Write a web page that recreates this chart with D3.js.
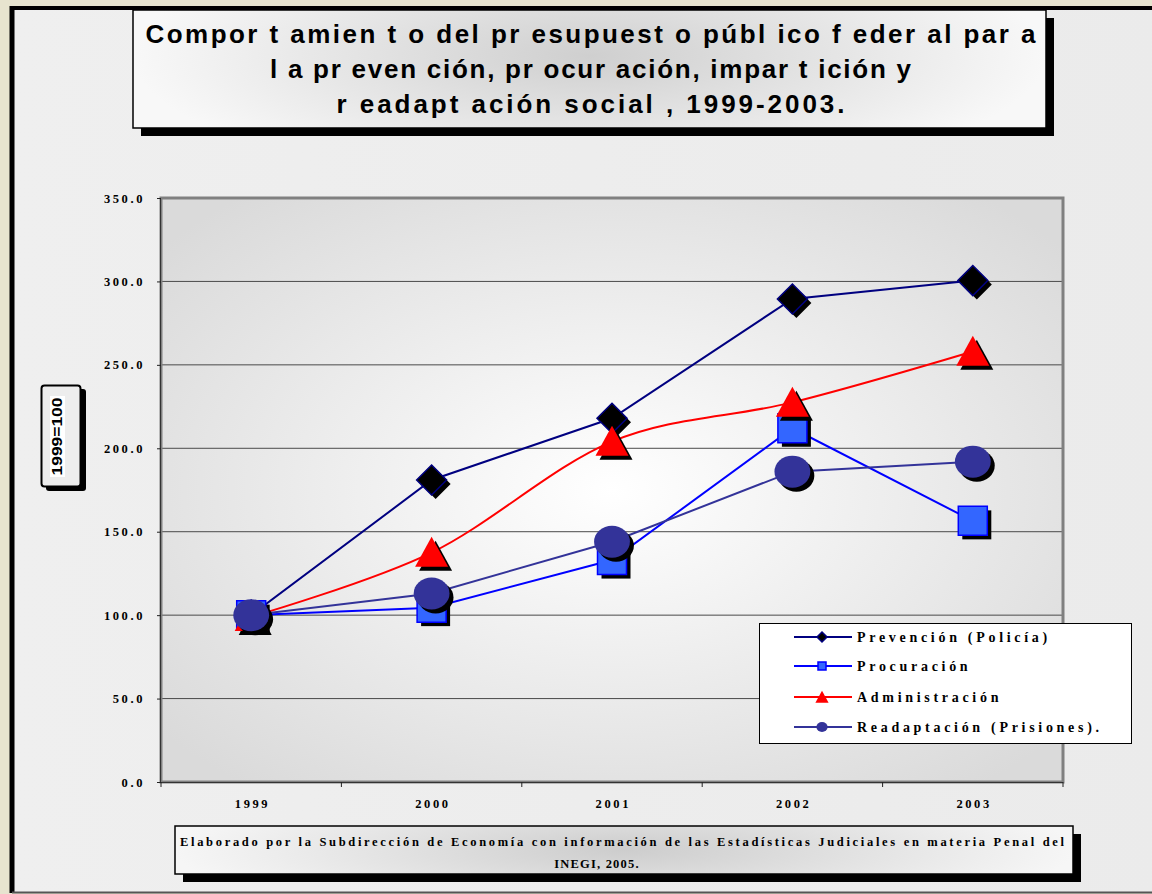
<!DOCTYPE html>
<html>
<head>
<meta charset="utf-8">
<script src="https://cdn.jsdelivr.net/npm/d3@7"></script>
<style>
  body { margin: 0; background: #e7e4cf; }
  svg { display: block; }
</style>
</head>
<body>
<div id="graph"></div>
<script>
const years = ['1999', '2000', '2001', '2002', '2003']
const prevencion = [100, 181, 218, 289.5, 300.5]
const procuracion = [100, 104.5, 133, 212, 156.5]
const administracion = [99, 137.5, 204, 227.5, 258]
const readaptacion = [100, 113, 144, 186, 192]
const yTicks = [0, 50, 100, 150, 200, 250, 300, 350]

const titleLines = [
  'Compor t amien t o del pr esupuest o públ ico f eder al par a',
  'l a pr even ción, pr ocur ación, impar t ición y',
  'r eadapt ación social , 1999-2003.'
]
const footLines = [
  'Elaborado por la Subdirección de Economía con información de las Estadísticas Judiciales en materia Penal del',
  'INEGI, 2005.'
]
const yLabelText = '1999=100'

const series = [
  {name: 'Prevención (Policía)', values: prevencion, color: '#000080', shape: 'diamond'},
  {name: 'Procuración', values: procuracion, color: '#0000ff', shape: 'square'},
  {name: 'Administración', values: administracion, color: '#ff0000', shape: 'triangle', smooth: true},
  {name: 'Readaptación (Prisiones).', values: readaptacion, color: '#333399', shape: 'circle'}
]

const W = 1152, H = 894
const plot = {left: 161, right: 1063, top: 198, bottom: 782}

const svg = d3.select('#graph').append('svg')
  .attr('width', W).attr('height', H)

const defs = svg.append('defs')

const rg = defs.append('radialGradient').attr('id', 'plotFill')
  .attr('cx', '0.5').attr('cy', '0.5').attr('r', '0.65')
rg.append('stop').attr('offset', '0%').attr('stop-color', '#ffffff')
rg.append('stop').attr('offset', '100%').attr('stop-color', '#dadada')

const tg = defs.append('radialGradient').attr('id', 'titleFill')
  .attr('cx', '0.5').attr('cy', '0.45').attr('r', '0.5')
  .attr('gradientTransform', 'translate(0.5,0.5) scale(1,2.2) translate(-0.5,-0.5)')
tg.append('stop').attr('offset', '0%').attr('stop-color', '#cfcfcf')
tg.append('stop').attr('offset', '100%').attr('stop-color', '#f8f8f8')

const fg = defs.append('radialGradient').attr('id', 'footFill')
  .attr('cx', '0.5').attr('cy', '0.5').attr('r', '0.5')
  .attr('gradientTransform', 'translate(0.5,0.5) scale(1,3) translate(-0.5,-0.5)')
fg.append('stop').attr('offset', '0%').attr('stop-color', '#cdcdcd')
fg.append('stop').attr('offset', '100%').attr('stop-color', '#f6f6f6')

const bg = defs.append('linearGradient').attr('id', 'bgFill')
  .attr('x1', 0).attr('x2', 1).attr('y1', 0).attr('y2', 0)
bg.append('stop').attr('offset', '0%').attr('stop-color', '#efefef')
bg.append('stop').attr('offset', '100%').attr('stop-color', '#ebebeb')

// outer frame
svg.append('rect')
  .attr('x', 12).attr('y', 8).attr('width', W).attr('height', 884)
  .attr('fill', 'url(#bgFill)')
svg.append('line').attr('x1', 12).attr('x2', 12).attr('y1', 6).attr('y2', 893)
  .attr('stroke', '#000').attr('stroke-width', 5)
svg.append('line').attr('x1', 10).attr('x2', W).attr('y1', 8).attr('y2', 8)
  .attr('stroke', '#000').attr('stroke-width', 4)
svg.append('line').attr('x1', 12).attr('x2', W).attr('y1', 892.5).attr('y2', 892.5)
  .attr('stroke', '#555').attr('stroke-width', 2)

// title box
const tb = {x: 133, y: 10, w: 913, h: 118}
svg.append('rect').attr('x', tb.x + 8).attr('y', tb.y + 8)
  .attr('width', tb.w).attr('height', tb.h).attr('fill', '#000')
svg.append('rect').attr('x', tb.x).attr('y', tb.y)
  .attr('width', tb.w).attr('height', tb.h)
  .attr('fill', 'url(#titleFill)').attr('stroke', '#000').attr('stroke-width', 1.5)
const titleLen = [890, 641, 508]
const titleBase = [43, 78, 113]
titleLines.forEach((t, i) => {
  svg.append('text')
    .attr('x', tb.x + tb.w / 2 + 1).attr('y', titleBase[i])
    .attr('text-anchor', 'middle')
    .attr('font-family', 'Liberation Sans, Arial, sans-serif')
    .attr('font-weight', 'bold').attr('font-size', 26)
    .attr('textLength', titleLen[i]).attr('lengthAdjust', 'spacing')
    .attr('fill', '#000')
    .text(t)
})

// scales
const x = d3.scaleBand().domain(years).range([plot.left, plot.right])
const y = d3.scaleLinear().domain([0, 350]).range([plot.bottom, plot.top])
const cx = d => x(d) + x.bandwidth() / 2

// plot area
svg.append('rect')
  .attr('x', plot.left).attr('y', plot.top)
  .attr('width', plot.right - plot.left).attr('height', plot.bottom - plot.top)
  .attr('fill', 'url(#plotFill)')

// gridlines
svg.append('g').selectAll('line')
  .data(yTicks.filter(d => d > 0 && d < 350))
  .join('line')
  .attr('x1', plot.left).attr('x2', plot.right)
  .attr('y1', d => y(d)).attr('y2', d => y(d))
  .attr('stroke', '#4a4a4a').attr('stroke-width', 1)

svg.append('rect')
  .attr('x', plot.left).attr('y', plot.top)
  .attr('width', plot.right - plot.left).attr('height', plot.bottom - plot.top)
  .attr('fill', 'none').attr('stroke', '#808080').attr('stroke-width', 3)
svg.append('line').attr('x1', plot.left - 0.5).attr('x2', plot.left - 0.5)
  .attr('y1', plot.top).attr('y2', plot.bottom)
  .attr('stroke', '#333').attr('stroke-width', 1)
svg.append('line').attr('x1', plot.left).attr('x2', plot.right)
  .attr('y1', plot.bottom + 0.5).attr('y2', plot.bottom + 0.5)
  .attr('stroke', '#333').attr('stroke-width', 1)

// y axis
const yAxis = svg.append('g')
  .attr('transform', `translate(${plot.left},0)`)
  .call(d3.axisLeft(y).tickValues(yTicks).tickSize(4).tickFormat(d3.format('.1f')))
yAxis.select('.domain').remove()
yAxis.selectAll('.tick line').attr('stroke', '#222')
yAxis.selectAll('.tick text')
  .attr('x', -16)
  .attr('font-family', 'Liberation Serif, Times New Roman, serif')
  .attr('font-weight', 'bold').attr('font-size', 12.5)
  .attr('letter-spacing', 2.6).attr('fill', '#000')

// x axis
const xAxis = svg.append('g')
  .attr('transform', `translate(0,${plot.bottom})`)
  .call(d3.axisBottom(x).tickSize(0))
xAxis.select('.domain').remove()
xAxis.selectAll('.tick text')
  .attr('y', 26).attr('dy', 0)
  .attr('font-family', 'Liberation Serif, Times New Roman, serif')
  .attr('font-weight', 'bold').attr('font-size', 12.5)
  .attr('letter-spacing', 2.6).attr('fill', '#000')
  .attr('dx', 1.3)
svg.append('g').selectAll('line')
  .data(years.concat(['end']))
  .join('line')
  .attr('x1', (d, i) => plot.left + i * x.bandwidth())
  .attr('x2', (d, i) => plot.left + i * x.bandwidth())
  .attr('y1', plot.bottom).attr('y2', plot.bottom + 5)
  .attr('stroke', '#222')

// markers
const shapePath = (shape, s) => {
  if (shape === 'diamond') return `M0,${-s}L${s},0L0,${s}L${-s},0Z`
  if (shape === 'square') return `M${-s},${-s}H${s}V${s}H${-s}Z`
  if (shape === 'triangle') return `M0,${-s * 1.05}L${s * 1.1},${s * 0.95}L${-s * 1.1},${s * 0.95}Z`
  return null
}
const drawMarker = (g, shape, px, py, size, color, shadow) => {
  const m = g.append('g').attr('transform', `translate(${px},${py})`)
  const add = (dx, fill, stroke, sw) => {
    let el
    if (shape === 'circle') {
      el = m.append('ellipse').attr('rx', size * 1.12).attr('ry', size)
    } else {
      el = m.append('path').attr('d', shapePath(shape, size))
    }
    el.attr('transform', `translate(${dx},${dx})`)
      .attr('fill', fill).attr('stroke', stroke).attr('stroke-width', sw)
  }
  if (shadow) add(4, '#000', 'none', 0)
  if (shape === 'diamond') add(0, '#000', color, 1.5)
  else if (shape === 'square') add(0, '#3366ff', color, 1.5)
  else add(0, color, 'none', 0)
}
const bigSize = {diamond: 15, square: 14.5, triangle: 15, circle: 16}
const smallSize = {diamond: 5, square: 4, triangle: 6, circle: 5}

const lineGen = d3.line().x((d, i) => cx(years[i])).y(d => y(d))
const smoothGen = d3.line().x((d, i) => cx(years[i])).y(d => y(d)).curve(d3.curveCardinal)

series.forEach(s => {
  const g = svg.append('g')
  g.append('path')
    .datum(s.values)
    .attr('d', s.smooth ? smoothGen : lineGen)
    .attr('fill', 'none').attr('stroke', s.color).attr('stroke-width', 2)
  s.values.forEach((v, i) => {
    drawMarker(g, s.shape, cx(years[i]), y(v), bigSize[s.shape], s.color, true)
  })
})

// legend
const lg = svg.append('g')
lg.append('rect').attr('x', 759.5).attr('y', 623.5).attr('width', 372).attr('height', 120)
  .attr('fill', '#fff').attr('stroke', '#000').attr('stroke-width', 1)
const legY = [637, 666, 697, 727]
series.forEach((s, i) => {
  lg.append('line').attr('x1', 794).attr('x2', 852)
    .attr('y1', legY[i]).attr('y2', legY[i])
    .attr('stroke', s.color).attr('stroke-width', 2)
  drawMarker(lg, s.shape, 822, legY[i], smallSize[s.shape], s.color, false)
  lg.append('text')
    .attr('x', 857).attr('y', legY[i] + 5)
    .attr('font-family', 'Liberation Serif, Times New Roman, serif')
    .attr('font-weight', 'bold').attr('font-size', 14)
    .attr('letter-spacing', 3.7).attr('fill', '#000')
    .text(s.name)
})

// y label box
const yb = svg.append('g')
yb.append('rect').attr('x', 46).attr('y', 389).attr('width', 40).attr('height', 102)
  .attr('rx', 3).attr('fill', '#000')
yb.append('rect').attr('x', 41.5).attr('y', 385.5).attr('width', 39).attr('height', 101)
  .attr('rx', 3).attr('fill', '#ededed').attr('stroke', '#000').attr('stroke-width', 2)
yb.append('rect').attr('x', 50).attr('y', 396).attr('width', 15).attr('height', 81)
  .attr('fill', '#fff')
yb.append('text')
  .attr('transform', 'translate(61.5,436.5) rotate(-90)')
  .attr('text-anchor', 'middle')
  .attr('font-family', 'Liberation Sans, Arial, sans-serif')
  .attr('font-weight', 'bold').attr('font-size', 14)
  .attr('textLength', 78).attr('lengthAdjust', 'spacingAndGlyphs')
  .text(yLabelText)

// footer box
const fb = {x: 175, y: 826, w: 898, h: 48}
svg.append('rect').attr('x', fb.x + 8).attr('y', fb.y + 8)
  .attr('width', fb.w).attr('height', fb.h).attr('fill', '#000')
svg.append('rect').attr('x', fb.x).attr('y', fb.y)
  .attr('width', fb.w).attr('height', fb.h)
  .attr('fill', 'url(#footFill)').attr('stroke', '#000').attr('stroke-width', 1.5)
svg.append('text')
  .attr('x', 622).attr('y', 846)
  .attr('text-anchor', 'middle')
  .attr('font-family', 'Liberation Serif, Times New Roman, serif')
  .attr('font-weight', 'bold').attr('font-size', 12.5)
  .attr('textLength', 884).attr('lengthAdjust', 'spacing')
  .text(footLines[0])
svg.append('text')
  .attr('x', 597).attr('y', 868)
  .attr('text-anchor', 'middle')
  .attr('font-family', 'Liberation Serif, Times New Roman, serif')
  .attr('font-weight', 'bold').attr('font-size', 12.5)
  .attr('letter-spacing', 1.2)
  .text(footLines[1])
</script>
</body>
</html>
